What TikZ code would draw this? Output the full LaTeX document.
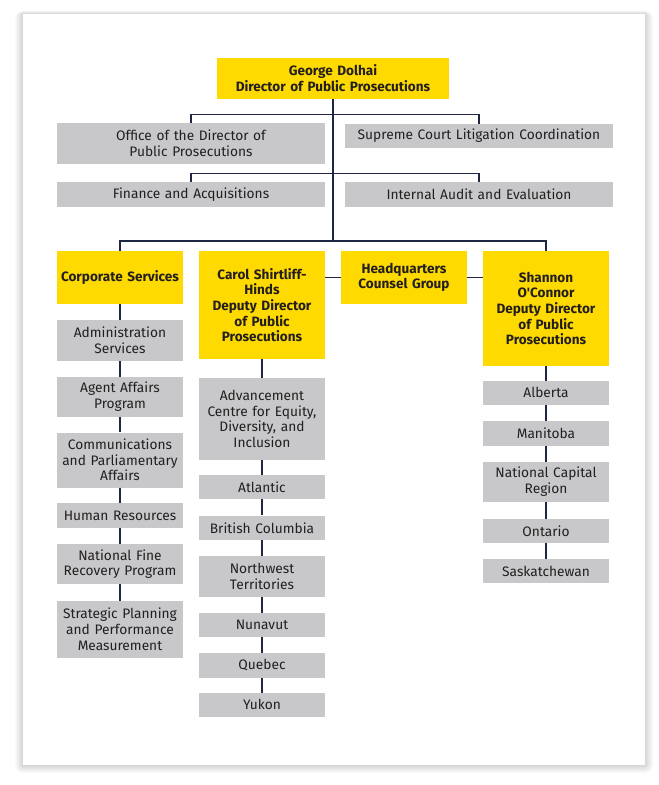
\documentclass[tikz,border=0pt]{standalone}
\usepackage{fontspec}
\setmainfont{Fira Sans}[Ligatures=TeXOff]
\definecolor{dppyellow}{HTML}{FFDA00}
\definecolor{dppgray}{HTML}{C8C8CA}
\definecolor{dppline}{HTML}{1E2642}
\definecolor{dpptext}{HTML}{231F20}
\begin{document}
\begin{tikzpicture}[x=1bp, y=-1bp,
    headbox/.style={fill=dppyellow, text=dpptext, inner sep=0pt, align=center,
      text width=#1, minimum width=#1, font=\bfseries\fontsize{13.6}{15.7}\selectfont},
    unitbox/.style={fill=dppgray, text=dpptext, inner sep=0pt, align=center,
      text width=#1, minimum width=#1, font=\fontsize{13.8}{15.7}\selectfont},
    link/.style={draw=dppline, line width=1.1bp}]
  \useasboundingbox (0,0) rectangle (659,785);
  \fill[white] (0,0) rectangle (659,785);

  % Tarjeta con sombra
  \foreach \s in {1,...,8}
    \fill[black, opacity=0.018, rounded corners=\s bp] (23-\s,14-0.4*\s) rectangle (645+\s,765+\s);
  \fill[white] (23,14) rectangle (645,765);

  % Director y oficinas
  \node[headbox=232bp, minimum height=41bp] (dpp) at (333,78.3)
    {George Dolhai\\Director of Public Prosecutions};
  \node[unitbox=268bp, minimum height=41bp] (office) at (191,143.3)
    {Office of the Director of\\Public Prosecutions};
  \node[unitbox=268bp, minimum height=24bp] (supreme) at (479,136)
    {Supreme Court Litigation Coordination};
  \node[unitbox=268bp, minimum height=25bp] (finance) at (191,194.3)
    {Finance and Acquisitions};
  \node[unitbox=268bp, minimum height=25bp] (audit) at (479,194.3)
    {Internal Audit and Evaluation};

  % Segundo nivel
  \node[headbox=126bp, minimum height=53bp] (corp) at (120,277.5) {Corporate Services};
  \node[headbox=126bp, minimum height=108bp] (carol) at (262,305)
    {Carol Shirtliff-\\Hinds\\Deputy Director\\of Public\\Prosecutions};
  \node[headbox=126bp, minimum height=53bp] (hq) at (404,277.5)
    {Headquarters\\Counsel Group};
  \node[headbox=126bp, minimum height=115bp] (shannon) at (546,308.5)
    {Shannon\\O'Connor\\Deputy Director\\of Public\\Prosecutions};

  % Columnas
  \foreach \name/\x/\y/\h/\label in {
      admin/120/340.3/41/{Administration\\Services},
      agent/120/396.7/40/{Agent Affairs\\Program},
      comms/120/460/55/{Communications\\and Parliamentary\\Affairs},
      hr/120/515.5/24.5/{Human Resources},
      fine/120/564/40/{National Fine\\Recovery Program},
      plan/120/629.3/57/{Strategic Planning\\and Performance\\Measurement},
      equity/262/418.8/82/{Advancement\\Centre for Equity,\\Diversity, and\\Inclusion},
      atlantic/262/487/24/{Atlantic},
      bc/262/527.8/24.5/{British Columbia},
      nwt/262/576.3/41/{Northwest\\Territories},
      nunavut/262/625/23.5/{Nunavut},
      quebec/262/665.3/24.5/{Quebec},
      yukon/262/704.8/23.5/{Yukon},
      alberta/546/392.8/23.5/{Alberta},
      manitoba/546/433.3/24.5/{Manitoba},
      ncr/546/481.8/40/{National Capital\\Region},
      ontario/546/530.8/23.5/{Ontario},
      sask/546/571.2/24.5/{Saskatchewan}
    } {
      \node[unitbox=126bp, minimum height=\h bp] (\name) at (\x,\y) {\label};
    }

  % Conectores
  \coordinate (row1) at (333,114.3);
  \coordinate (row2) at (333,173.3);
  \coordinate (hub) at (333,241);
  \draw[link] (dpp.south) -- (hub);
  \draw[link] (office.north) |- (row1) -| (supreme.north);
  \draw[link] (finance.north) |- (row2) -| (audit.north);
  \draw[link] (corp.north) |- (hub) -| (shannon.north);
  \draw[link] (carol.east |- hq.west) -- (hq.west);
  \draw[link] (hq.east) -- (shannon.west |- hq.east);
  \foreach \a/\b in {corp/admin, admin/agent, agent/comms, comms/hr, hr/fine, fine/plan,
      carol/equity, equity/atlantic, atlantic/bc, bc/nwt, nwt/nunavut, nunavut/quebec, quebec/yukon,
      shannon/alberta, alberta/manitoba, manitoba/ncr, ncr/ontario, ontario/sask}
    \draw[link] (\a) -- (\b);
\end{tikzpicture}
\end{document}
